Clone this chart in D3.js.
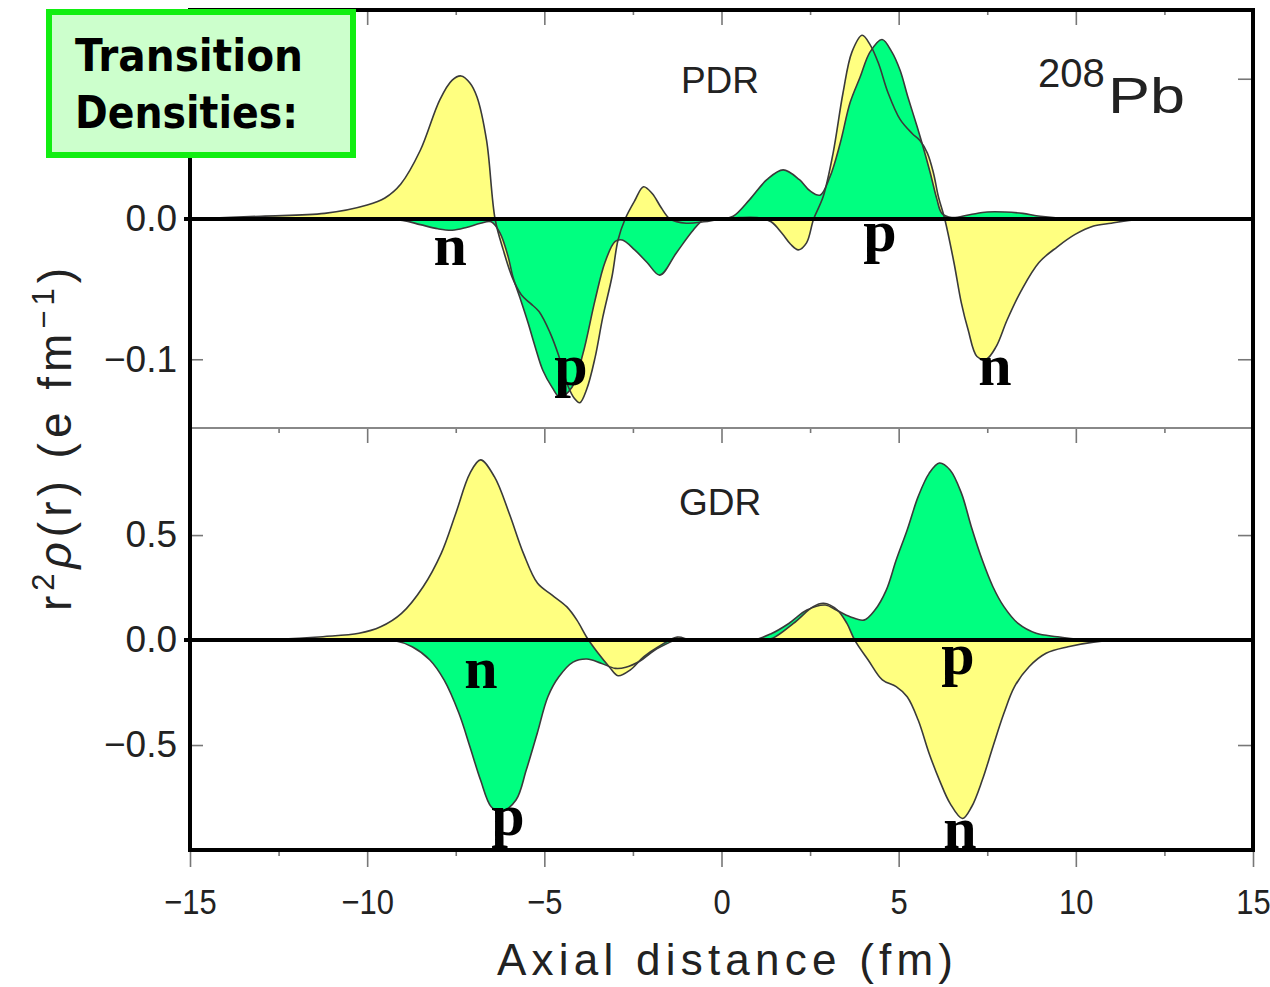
<!DOCTYPE html>
<html lang="en">
  <head>
    <meta charset="utf-8">
    <title>Transition densities 208Pb</title>
    <script src="https://d3js.org/d3.v7.min.js"></script>
    <style>
      body { margin: 0; background: #fff; }
      text { font-family: "Liberation Sans", Arial, sans-serif; }
    </style>
  </head>
  <body>
    <div id="chart"></div>
    <script type="text/javascript">
      // x axis ticks (fm)
      var xMajor = [-15, -10, -5, 0, 5, 10, 15];
      var xMinor = [-12.5, -7.5, -2.5, 2.5, 7.5, 12.5];

      // y ticks per panel
      var pdrLabels = [0.0, -0.1];
      var pdrInner = [0.1, -0.1];
      var gdrLabels = [0.5, 0.0, -0.5];
      var gdrInner = [0.5, -0.5];

      // PDR panel, neutron (yellow) and proton (green): [x, r^2 rho]
      var pdrNeutron = [[-15, 0], [-13, 0.002], [-11.2, 0.004], [-10, 0.010], [-9.5, 0.015], [-9.05, 0.025],
        [-8.5, 0.049], [-7.95, 0.085], [-7.6, 0.099], [-7.35, 0.102], [-7.1, 0.097], [-6.9, 0.087],
        [-6.63, 0.056], [-6.39, 0.0], [-6.16, -0.022], [-5.9, -0.042], [-5.65, -0.054], [-5.4, -0.060],
        [-5.15, -0.066], [-4.84, -0.081], [-4.6, -0.097], [-4.35, -0.118], [-4.15, -0.128], [-4.0, -0.131],
        [-3.8, -0.121], [-3.57, -0.099], [-3.35, -0.070], [-3.09, -0.041], [-2.92, -0.015], [-2.72, 0.0],
        [-2.45, 0.013], [-2.2, 0.023], [-1.95, 0.018], [-1.7, 0.008], [-1.45, 0.0], [-1.0, -0.003],
        [-0.5, -0.002], [0, 0], [0.5, 0.001], [1.0, 0.001], [1.4, -0.002], [1.7, -0.010], [1.95, -0.018],
        [2.17, -0.022], [2.4, -0.017], [2.6, 0.0], [2.87, 0.016], [3.15, 0.047], [3.43, 0.090],
        [3.68, 0.119], [3.97, 0.131], [4.2, 0.124], [4.43, 0.111], [4.7, 0.090], [5.04, 0.071],
        [5.38, 0.061], [5.6, 0.056], [5.81, 0.047], [5.98, 0.033], [6.12, 0.016], [6.3, 0.0],
        [6.56, -0.031], [6.77, -0.060], [6.96, -0.079], [7.21, -0.098], [7.47, -0.100], [7.75, -0.091],
        [8.06, -0.072], [8.46, -0.051], [8.96, -0.031], [9.47, -0.020], [9.98, -0.011], [10.5, -0.005],
        [11.0, -0.003], [11.5, -0.001], [12.5, 0], [15, 0]];

      var pdrProton = [[-15, 0], [-10, 0], [-9, -0.001], [-8.5, -0.004], [-8.0, -0.007], [-7.6, -0.008],
        [-7.2, -0.006], [-6.8, -0.003], [-6.5, -0.002], [-6.25, -0.010], [-6.02, -0.027], [-5.89, -0.041],
        [-5.69, -0.056], [-5.46, -0.074], [-5.26, -0.091], [-5.04, -0.108], [-4.78, -0.120], [-4.56, -0.127],
        [-4.22, -0.120], [-3.91, -0.096], [-3.57, -0.058], [-3.29, -0.031], [-3.0, -0.016], [-2.8, -0.015],
        [-2.45, -0.022], [-2.1, -0.031], [-1.74, -0.040], [-1.27, -0.024], [-0.8, -0.008], [-0.47, 0],
        [0, 0.0], [0.33, 0.002], [0.8, 0.014], [1.28, 0.028], [1.74, 0.035], [2.2, 0.028], [2.5, 0.020],
        [2.78, 0.017], [3.06, 0.030], [3.35, 0.054], [3.63, 0.083], [3.91, 0.101], [4.19, 0.119],
        [4.53, 0.128], [4.81, 0.119], [5.04, 0.106], [5.26, 0.087], [5.52, 0.066], [5.66, 0.054],
        [5.89, 0.033], [6.08, 0.014], [6.22, 0.004], [6.5, 0.001], [7.0, 0.003], [7.5, 0.005],
        [8.0, 0.005], [8.5, 0.004], [9.0, 0.002], [10, 0.0], [15, 0]];

      // GDR panel
      var gdrNeutron = [[-15, 0], [-12.5, 0.004], [-11.25, 0.016], [-10.23, 0.032], [-9.62, 0.063],
        [-9.03, 0.127], [-8.42, 0.254], [-7.91, 0.413], [-7.5, 0.603], [-7.1, 0.794], [-6.8, 0.858],
        [-6.41, 0.778], [-5.99, 0.603], [-5.59, 0.413], [-5.19, 0.27], [-4.78, 0.214], [-4.37, 0.159],
        [-4.08, 0.095], [-3.79, 0.01], [-3.48, -0.063], [-3.17, -0.127], [-2.92, -0.170], [-2.58, -0.143],
        [-2.19, -0.079], [-1.78, -0.032], [-1.25, 0.014], [-0.86, 0.0], [0, 0], [0.7, 0], [1.09, -0.004],
        [1.46, 0.01], [2.03, 0.079], [2.59, 0.159], [2.88, 0.175], [3.27, 0.143], [3.54, 0.079],
        [3.76, 0.0], [4.14, -0.095], [4.54, -0.19], [4.93, -0.222], [5.24, -0.27], [5.55, -0.381],
        [5.86, -0.54], [6.15, -0.667], [6.45, -0.778], [6.8, -0.85], [7.06, -0.794], [7.36, -0.667],
        [7.66, -0.508], [7.97, -0.349], [8.27, -0.222], [8.68, -0.127], [9.16, -0.063], [9.78, -0.032],
        [10.5, -0.01], [11.2, 0], [15, 0]];

      var gdrProton = [[-15, 0], [-10, 0], [-9.24, -0.002], [-8.73, -0.032], [-8.23, -0.095], [-7.83, -0.19],
        [-7.41, -0.349], [-7.1, -0.508], [-6.8, -0.667], [-6.5, -0.794], [-6.22, -0.819], [-5.8, -0.762],
        [-5.51, -0.619], [-5.2, -0.444], [-4.9, -0.27], [-4.59, -0.175], [-4.19, -0.105], [-3.8, -0.09],
        [-3.4, -0.11], [-3.0, -0.135], [-2.7, -0.13], [-2.3, -0.10], [-1.9, -0.05], [-1.45, -0.01],
        [-1.2, 0.008], [-0.9, 0], [0, 0], [0.9, 0], [1.4, 0.03], [1.9, 0.079], [2.41, 0.143],
        [2.93, 0.167], [3.24, 0.143], [3.63, 0.111], [4.02, 0.095], [4.33, 0.143], [4.65, 0.238],
        [4.93, 0.381], [5.24, 0.524], [5.55, 0.683], [5.86, 0.794], [6.15, 0.843], [6.45, 0.81],
        [6.77, 0.70], [7.05, 0.54], [7.36, 0.381], [7.66, 0.254], [7.97, 0.159], [8.37, 0.079],
        [8.88, 0.032], [9.47, 0.016], [10.1, 0.003], [10.6, 0], [15, 0]];

      // n / p markers: [letter, x, value] at the letter baseline
      var pdrMarks = [["n", -7.66, -0.033], ["p", -4.25, -0.118], ["p", 4.47, -0.023], ["n", 7.72, -0.118]];
      var gdrMarks = [["n", -6.79, -0.23], ["p", -6.03, -0.93], ["p", 6.67, -0.16], ["n", 6.73, -0.99]];

      var yellow = "#ffff80";
      var green = "#00ff80";

      var svg = d3.select('#chart')
        .append('svg')
        .attr('width', 1270)
        .attr('height', 987);

      var x = d3.scaleLinear().domain([-15, 15]).range([190, 1253]);
      var yTop = d3.scaleLinear().domain([-0.149, 0.149]).range([428, 10]);
      var yBot = d3.scaleLinear().domain([-1.0, 1.01]).range([850, 428]);

      var smooth = d3.curveCatmullRom.alpha(0.5);

      // draw one filled curve (fill down to zero)
      var drawFill = function(g, data, y, color) {
        var area = d3.area()
          .curve(smooth)
          .x(function(d) { return x(d[0]); })
          .y0(y(0))
          .y1(function(d) { return y(d[1]); });
        g.append('path').attr('d', area(data)).attr('fill', color);
      };

      var drawLine = function(g, data, y) {
        var line = d3.line()
          .curve(smooth)
          .x(function(d) { return x(d[0]); })
          .y(function(d) { return y(d[1]); });
        g.append('path').attr('d', line(data))
          .attr('fill', 'none')
          .attr('stroke', '#3a3a3a')
          .attr('stroke-width', 1.6);
      };

      // panel curves: PDR green over yellow, GDR yellow over green
      var pdr = svg.append('g');
      drawFill(pdr, pdrNeutron, yTop, yellow);
      drawFill(pdr, pdrProton, yTop, green);
      drawLine(pdr, pdrNeutron, yTop);
      drawLine(pdr, pdrProton, yTop);

      var gdr = svg.append('g');
      drawFill(gdr, gdrProton, yBot, green);
      drawFill(gdr, gdrNeutron, yBot, yellow);
      drawLine(gdr, gdrNeutron, yBot);
      drawLine(gdr, gdrProton, yBot);

      // zero lines
      [yTop, yBot].forEach(function(s) {
        svg.append('line')
          .attr('x1', 184).attr('x2', x(15))
          .attr('y1', s(0)).attr('y2', s(0))
          .attr('stroke', '#000').attr('stroke-width', 4);
      });

      // strip the domain line and grey the tick marks
      var styleAxis = function(g) {
        g.select('.domain').remove();
        g.selectAll('line').attr('stroke', '#777').attr('stroke-width', 1.6);
      };

      // x ticks: inward at panel tops, outward at bottom
      var panelTops = [10, 428];
      panelTops.forEach(function(yy) {
        svg.append('g').attr('transform', 'translate(0,' + yy + ')')
          .call(d3.axisBottom(x).tickValues(xMajor).tickSize(15).tickFormat(''))
          .call(styleAxis);
        svg.append('g').attr('transform', 'translate(0,' + yy + ')')
          .call(d3.axisBottom(x).tickValues(xMinor).tickSize(5).tickFormat(''))
          .call(styleAxis);
      });
      svg.append('g').attr('transform', 'translate(0,850)')
        .call(d3.axisBottom(x).tickValues(xMajor).tickSize(17).tickPadding(21).tickFormat(d3.format('d')))
        .call(styleAxis)
        .call(function(g) {
          // tall, narrow digits like the original plot
          g.selectAll('text').attr('font-size', 36).attr('fill', '#222')
            .attr('transform', 'scale(0.86,1)')
            .style('font-family', '"Liberation Sans", Arial, sans-serif');
        });
      svg.append('g').attr('transform', 'translate(0,850)')
        .call(d3.axisBottom(x).tickValues(xMinor).tickSize(6).tickFormat(''))
        .call(styleAxis);

      // y ticks: labels on left, inward marks on both sides
      var yAxes = function(y, labels, inner) {
        svg.append('g').attr('transform', 'translate(190,0)')
          .call(d3.axisLeft(y).tickValues(labels).tickSize(0).tickPadding(13).tickFormat(d3.format('.1f')))
          .call(styleAxis)
          .call(function(g) {
            g.selectAll('text').attr('font-size', 37).attr('fill', '#222')
              .style('font-family', '"Liberation Sans", Arial, sans-serif');
          });
        svg.append('g').attr('transform', 'translate(190,0)')
          .call(d3.axisRight(y).tickValues(inner).tickSize(13).tickFormat(''))
          .call(styleAxis);
        svg.append('g').attr('transform', 'translate(1253,0)')
          .call(d3.axisLeft(y).tickValues(inner).tickSize(15).tickFormat(''))
          .call(styleAxis);
      };
      yAxes(yTop, pdrLabels, pdrInner);
      yAxes(yBot, gdrLabels, gdrInner);

      // frame and panel divider
      svg.append('line').attr('x1', 190).attr('x2', 1253).attr('y1', 428).attr('y2', 428)
        .attr('stroke', '#888').attr('stroke-width', 2);
      svg.append('rect')
        .attr('x', 190).attr('y', 10).attr('width', 1063).attr('height', 840)
        .attr('fill', 'none').attr('stroke', '#000').attr('stroke-width', 4);

      // n / p letters
      var drawMarks = function(marks, y) {
        svg.selectAll(null).data(marks).enter()
          .append('text')
          .attr('x', function(d) { return x(d[1]); })
          .attr('y', function(d) { return y(d[2]); })
          .attr('text-anchor', 'middle')
          .style('font-family', '"Liberation Serif", "Times New Roman", serif')
          .style('font-weight', 'bold')
          .attr('font-size', 60)
          .text(function(d) { return d[0]; });
      };
      drawMarks(pdrMarks, yTop);
      drawMarks(gdrMarks, yBot);

      // panel names and nucleus
      svg.append('text').attr('x', 720).attr('y', 93).attr('text-anchor', 'middle')
        .attr('font-size', 37).attr('fill', '#222').text('PDR');
      svg.append('text').attr('x', 720).attr('y', 515).attr('text-anchor', 'middle')
        .attr('font-size', 37).attr('fill', '#222').text('GDR');
      svg.append('text').attr('x', 1038).attr('y', 87)
        .attr('font-size', 40).attr('fill', '#222').text('208');
      svg.append('text').attr('x', 1108).attr('y', 113)
        .attr('font-size', 50).attr('fill', '#222')
        .attr('textLength', 77).attr('lengthAdjust', 'spacingAndGlyphs').text('Pb');

      // axis titles
      svg.append('text').attr('x', 725).attr('y', 975).attr('text-anchor', 'middle')
        .attr('font-size', 44).attr('fill', '#222')
        .attr('textLength', 456).attr('lengthAdjust', 'spacing')
        .text('Axial distance (fm)');

      var yTitle = svg.append('text')
        .attr('transform', 'translate(71,437)rotate(-90)')
        .attr('text-anchor', 'middle')
        .attr('font-size', 46).attr('fill', '#222')
        .attr('letter-spacing', 5);
      yTitle.append('tspan').text('r');
      yTitle.append('tspan').attr('dy', -17).attr('font-size', 31).text('2');
      yTitle.append('tspan').attr('dy', 17).style('font-style', 'italic').text('ρ');
      yTitle.append('tspan').text('(r) (e fm');
      yTitle.append('tspan').attr('dy', -17).attr('font-size', 31).text('−1');
      yTitle.append('tspan').attr('dy', 17).text(')');

      // label box
      svg.append('rect')
        .attr('x', 49).attr('y', 12).attr('width', 304).attr('height', 143)
        .attr('fill', '#ccffcc').attr('stroke', '#11ee11').attr('stroke-width', 6);
      svg.append('text').attr('x', 75).attr('y', 71)
        .style('font-family', '"Comic Sans MS", "DejaVu Sans", sans-serif')
        .style('font-weight', 'bold').attr('font-size', 44)
        .attr('textLength', 228).attr('lengthAdjust', 'spacingAndGlyphs')
        .text('Transition');
      svg.append('text').attr('x', 75).attr('y', 128)
        .style('font-family', '"Comic Sans MS", "DejaVu Sans", sans-serif')
        .style('font-weight', 'bold').attr('font-size', 44)
        .attr('textLength', 223).attr('lengthAdjust', 'spacingAndGlyphs')
        .text('Densities:');
    </script>
  </body>
</html>
